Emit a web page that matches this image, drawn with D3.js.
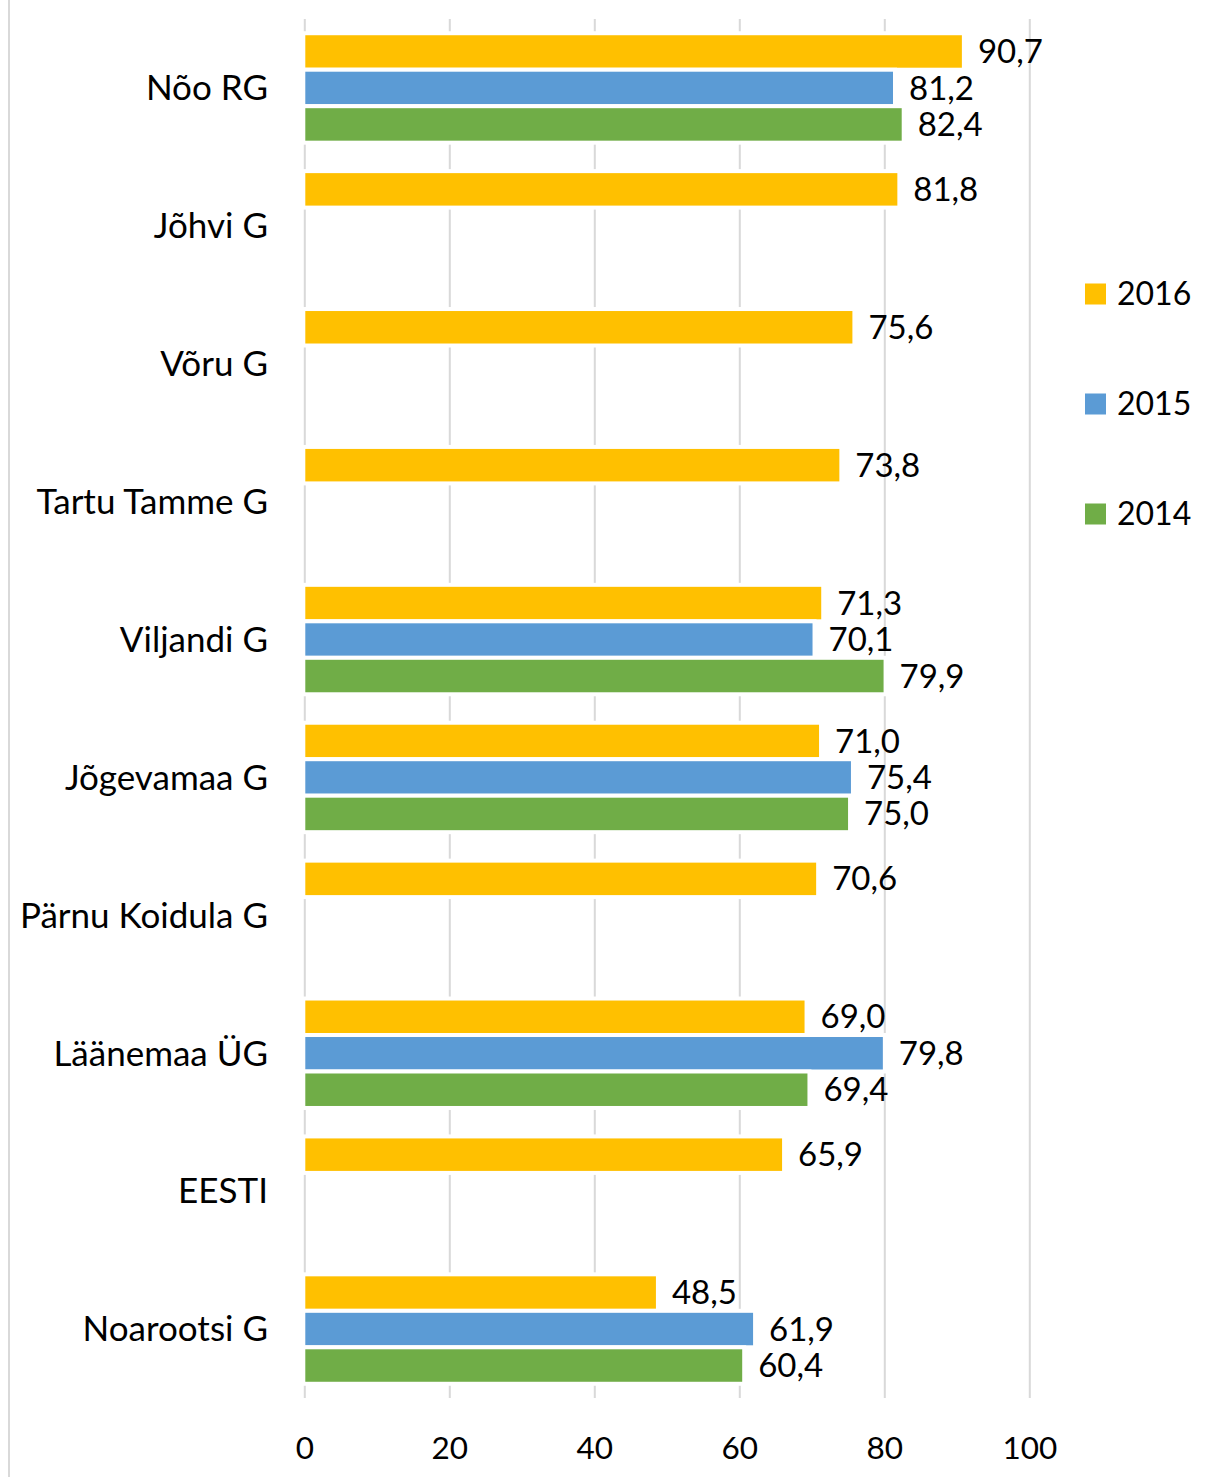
<!DOCTYPE html>
<html>
<head>
<meta charset="utf-8">
<script src="https://cdn.jsdelivr.net/npm/d3@7"></script>
<style>
  body { margin: 0; background: #fff; }
  svg { display: block; font-family: Lato, "Open Sans", sans-serif; }
</style>
</head>
<body>
<script>
const w = 1223;
const h = 1477;

const categories = ["Nõo RG", "Jõhvi G", "Võru G", "Tartu Tamme G", "Viljandi G",
  "Jõgevamaa G", "Pärnu Koidula G", "Läänemaa ÜG", "EESTI", "Noarootsi G"];
const seriesNames = ["2016", "2015", "2014"];
const values2016 = [90.7, 81.8, 75.6, 73.8, 71.3, 71.0, 70.6, 69.0, 65.9, 48.5];
const values2015 = [81.2, null, null, null, 70.1, 75.4, null, 79.8, null, 61.9];
const values2014 = [82.4, null, null, null, 79.9, 75.0, null, 69.4, null, 60.4];
const xTicks = [0, 20, 40, 60, 80, 100];
const colors = ["#FFC000", "#5B9BD5", "#70AD47"];

const seriesValues = [values2016, values2015, values2014];

const svg = d3.select("body")
  .append("svg")
  .attr("width", w)
  .attr("height", h);

// thin frame line on the left edge
svg.append("line")
  .attr("x1", 9).attr("x2", 9)
  .attr("y1", 0).attr("y2", h)
  .attr("stroke", "#d9d9d9")
  .attr("stroke-width", 2);

const xScale = d3.scaleLinear()
  .domain([0, 100])
  .range([304.3, 1029.3]);

const yScale = d3.scaleBand()
  .domain(categories)
  .range([19, 1398])
  .padding(0);

const innerScale = d3.scaleBand()
  .domain(seriesNames)
  .range([0, yScale.bandwidth()])
  .paddingInner(0)
  .paddingOuter(0.39);

// grid lines
const xAxis = d3.axisBottom(xScale)
  .tickValues(xTicks)
  .tickSize(-(1398 - 19))
  .tickPadding(39)
  .tickFormat(d3.format("d"));

const xAxisGroup = svg.append("g")
  .attr("transform", `translate(0, 1398)`)
  .call(xAxis);

xAxisGroup.select(".domain").remove();
xAxisGroup.selectAll(".tick line")
  .attr("stroke", "#d9d9d9")
  .attr("stroke-width", 2);
xAxisGroup.selectAll(".tick text")
  .attr("fill", "#000")
  .attr("font-size", 31.5)
  .attr("font-family", "Lato, sans-serif");

// category labels
svg.append("g")
  .selectAll("text")
  .data(categories)
  .enter()
  .append("text")
  .attr("x", 268)
  .attr("y", d => yScale(d) + yScale.bandwidth() / 2)
  .attr("dy", "0.35em")
  .attr("text-anchor", "end")
  .attr("font-size", 35)
  .text(d => d);

// bars (white outline only separates bars vertically, so widen by the stroke)
seriesNames.forEach((name, si) => {
  const data = categories.map((c, i) => ({ cat: c, v: seriesValues[si][i] }))
    .filter(d => d.v !== null);
  const g = svg.append("g");
  g.selectAll("rect")
    .data(data)
    .enter()
    .append("rect")
    .attr("x", xScale(0) - 1)
    .attr("y", d => yScale(d.cat) + innerScale(name))
    .attr("width", d => xScale(d.v) - xScale(0) + 3)
    .attr("height", innerScale.bandwidth())
    .attr("fill", colors[si])
    .attr("stroke", "#fff")
    .attr("stroke-width", 4);
  g.selectAll("text")
    .data(data)
    .enter()
    .append("text")
    .attr("x", d => xScale(d.v) + 16)
    .attr("y", d => yScale(d.cat) + innerScale(name) + innerScale.bandwidth() / 2)
    .attr("dy", "0.35em")
    .attr("font-size", 33)
    .text(d => d.v.toFixed(1).replace(".", ","));
});

// legend
const legend = svg.append("g")
  .selectAll("g")
  .data(seriesNames)
  .enter()
  .append("g")
  .attr("transform", (d, i) => `translate(1085, ${294 + i * 110})`);
legend.append("rect")
  .attr("x", 0)
  .attr("y", -10.5)
  .attr("width", 21)
  .attr("height", 21)
  .attr("fill", (d, i) => colors[i]);
legend.append("text")
  .attr("x", 32)
  .attr("y", 0)
  .attr("dy", "0.35em")
  .attr("font-size", 32)
  .text(d => d);
</script>
</body>
</html>
